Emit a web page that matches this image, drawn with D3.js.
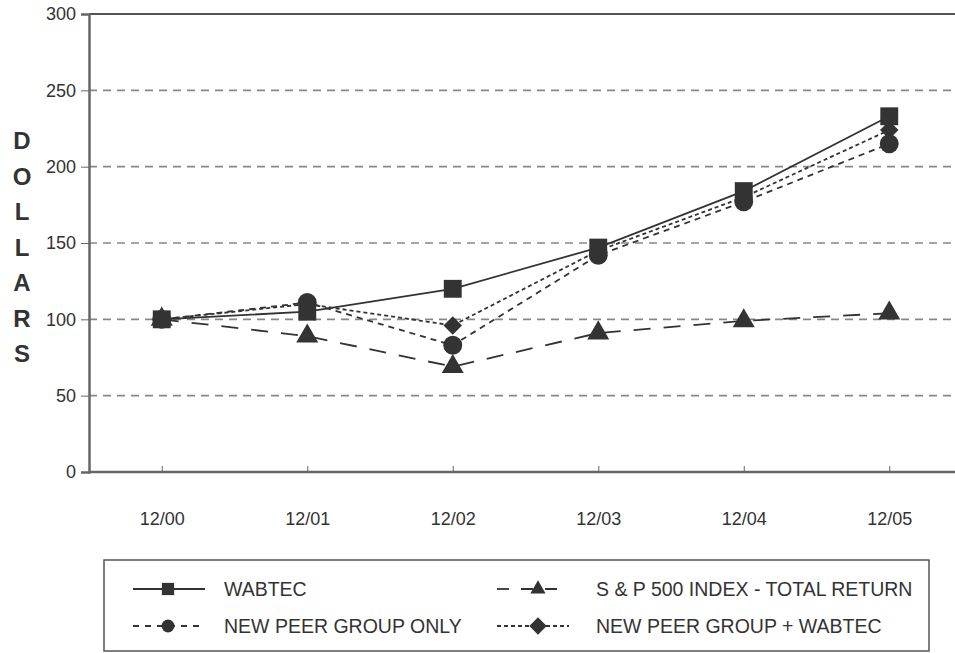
<!DOCTYPE html>
<html>
<head>
<meta charset="utf-8">
<script src="https://cdn.jsdelivr.net/npm/d3@7"></script>
<style>
  body { margin: 0; background: #fff; }
  text { font-family: "Liberation Sans", Arial, sans-serif; fill: #333; }
</style>
</head>
<body>
<svg width="955" height="653"></svg>
<script>
let periods = ["12/00", "12/01", "12/02", "12/03", "12/04", "12/05"];
let wabtec = [100, 105, 120, 147, 184, 233];
let sp500 = [100, 89, 69, 91, 99, 104];
let peerOnly = [100, 111, 83, 142, 177, 215];
let peerPlus = [100, 110, 96, 145, 180, 224];
let yTicks = [0, 50, 100, 150, 200, 250, 300];
let axisLetters = ["D", "O", "L", "L", "A", "R", "S"];

let series = [
  { name: "WABTEC", values: wabtec, dash: null, legDash: null, shape: d3.symbolSquare, size: 320, legSize: 150, rot: 0 },
  { name: "S & P 500 INDEX - TOTAL RETURN", values: sp500, dash: "17,13", legDash: "12,12", shape: d3.symbolTriangle, size: 210, legSize: 100, rot: 0 },
  { name: "NEW PEER GROUP ONLY", values: peerOnly, dash: "6,5", legDash: "6,6", shape: d3.symbolCircle, size: 280, legSize: 130, rot: 0 },
  { name: "NEW PEER GROUP + WABTEC", values: peerPlus, dash: "4,3", legDash: "4,3", shape: d3.symbolSquare, size: 170, legSize: 150, rot: 45 }
];

let svg = d3.select("svg");
let mLeft = 89, mTop = 14, mBottom = 472, mRight = 962;

let x = d3.scalePoint().domain(periods).range([mLeft, mRight]).padding(0.5);
let y = d3.scaleLinear().domain([0, 300]).range([mBottom, mTop]);

// grid
svg.append("g").selectAll("line")
  .data(yTicks.filter(d => d > 0 && d < 300))
  .enter().append("line")
  .attr("x1", mLeft).attr("x2", 955)
  .attr("y1", d => y(d)).attr("y2", d => y(d))
  .attr("stroke", "#888").attr("stroke-width", 1.6)
  .attr("stroke-dasharray", "8,6");

// frame top
svg.append("line").attr("x1", mLeft).attr("x2", 955).attr("y1", y(300)).attr("y2", y(300))
  .attr("stroke", "#555").attr("stroke-width", 2);

// y axis
let yAxis = svg.append("g").attr("transform", "translate(" + mLeft + ",0)")
  .call(d3.axisLeft(y).tickValues(yTicks).tickSize(8).tickPadding(5));
yAxis.select(".domain").attr("stroke", "#666").attr("stroke-width", 2.5);
yAxis.selectAll(".tick line").attr("stroke", "#666");
yAxis.selectAll("text").style("font-size", "18px").attr("fill", "#333");

// x axis
let xAxis = svg.append("g").attr("transform", "translate(0," + mBottom + ")")
  .call(d3.axisBottom(x).tickSize(-6).tickPadding(40).tickSizeOuter(0));
xAxis.select(".domain").attr("stroke", "#666").attr("stroke-width", 2.5)
  .attr("d", "M" + mLeft + ",0H" + mRight);
xAxis.selectAll(".tick line").attr("stroke", "#666");
xAxis.selectAll("text").style("font-size", "18px").attr("fill", "#333");

// DOLLARS
svg.append("g").selectAll("text")
  .data(axisLetters)
  .enter().append("text")
  .attr("x", 22).attr("y", (d, i) => 149 + i * 35.5)
  .attr("text-anchor", "middle")
  .style("font-size", "24px").style("font-weight", "bold").attr("fill", "#222")
  .text(d => d);

let line = d3.line().x((d, i) => x(periods[i])).y(d => y(d));

// lines, drawn under markers
series.slice().reverse().forEach(s => {
  svg.append("path")
    .attr("d", line(s.values))
    .attr("fill", "none").attr("stroke", "#333").attr("stroke-width", 1.8)
    .attr("stroke-dasharray", s.dash);
});

series.slice().reverse().forEach(s => {
  svg.append("g").selectAll("path")
    .data(s.values)
    .enter().append("path")
    .attr("transform", (d, i) => "translate(" + x(periods[i]) + "," + y(d) + ") rotate(" + s.rot + ")")
    .attr("d", d3.symbol().type(s.shape).size(s.size))
    .attr("fill", "#333");
});

// legend
let legend = svg.append("g");
legend.append("rect")
  .attr("x", 104).attr("y", 560).attr("width", 825).attr("height", 91)
  .attr("fill", "#fff").attr("stroke", "#555").attr("stroke-width", 1.5);

let legPos = [
  { lx: 133, mx: 168, tx: 224, ly: 589 },
  { lx: 497, mx: 538, tx: 596, ly: 589 },
  { lx: 133, mx: 168, tx: 224, ly: 626 },
  { lx: 497, mx: 538, tx: 596, ly: 626 }
];

series.forEach((s, i) => {
  let p = legPos[i];
  legend.append("line")
    .attr("x1", p.lx).attr("x2", p.lx + 72)
    .attr("y1", p.ly).attr("y2", p.ly)
    .attr("stroke", "#333").attr("stroke-width", 1.8)
    .attr("stroke-dasharray", s.legDash);
  legend.append("path")
    .attr("transform", "translate(" + p.mx + "," + p.ly + ") rotate(" + s.rot + ")")
    .attr("d", d3.symbol().type(s.shape).size(s.legSize))
    .attr("fill", "#333");
  legend.append("text")
    .attr("x", p.tx).attr("y", p.ly + 7)
    .style("font-size", "19.5px").attr("fill", "#333")
    .text(s.name);
});
</script>
</body>
</html>
